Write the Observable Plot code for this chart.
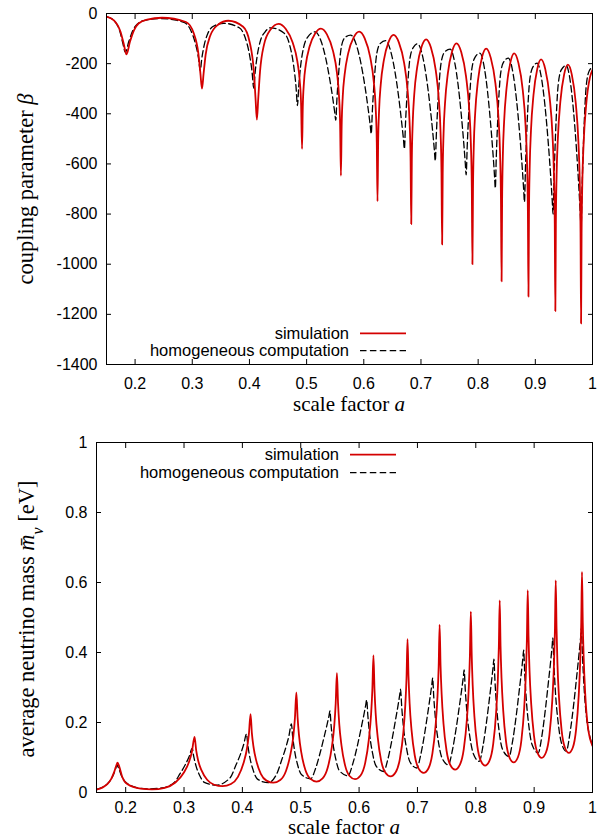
<!DOCTYPE html>
<html><head><meta charset="utf-8">
<script src="https://cdn.jsdelivr.net/npm/d3@7"></script>
<script src="https://cdn.jsdelivr.net/npm/@observablehq/plot@0.6"></script>
<style>
body{margin:0;background:#fff;}
#chart{width:602px;height:839px;position:relative;background:#fff;}
#chart svg{display:block;}
</style></head><body><div id="chart"></div>
<script>
const xTicks = [0.2,0.3,0.4,0.5,0.6,0.7,0.8,0.9,1];
const betaTicks = [-1400,-1200,-1000,-800,-600,-400,-200,0];
const massTicks = [0,0.2,0.4,0.6,0.8,1];
const seriesNames = ["simulation","homogeneous computation"];

// coupling parameter beta, simulation (a, beta)
const simBeta = [
[0.150,-12],[0.163,-27],[0.1745,-73],[0.180,-120],[0.185,-163],[0.191,-113],[0.198,-67],[0.206,-40],[0.221,-24],[0.247,-17],
[0.289,-34],[0.3026,-79],[0.3106,-158],[0.3142,-238],[0.317,-300],[0.3198,-240],[0.3234,-164],[0.3314,-89],[0.345,-45],[0.363,-29],
[0.389,-53],[0.4006,-116],[0.4075,-226],[0.4106,-336],[0.413,-423],[0.4154,-339],[0.4185,-232],[0.4254,-125],[0.437,-64],[0.451,-41],
[0.4633,-61],[0.4756,-116],[0.4838,-191],[0.4879,-266],[0.4904,-365],[0.492,-540],[0.4933,-372],[0.4953,-276],[0.4986,-204],[0.5052,-132],[0.5151,-79],[0.525,-60],
[0.5355,-83],[0.546,-148],[0.553,-236],[0.5565,-324],[0.5586,-442],[0.560,-647],[0.5613,-446],[0.5632,-331],[0.5664,-245],[0.5728,-158],[0.5824,-95],[0.592,-72],
[0.6016,-99],[0.6112,-174],[0.6176,-275],[0.6208,-377],[0.6227,-512],[0.624,-749],[0.6251,-517],[0.6268,-384],[0.6296,-284],[0.6352,-185],[0.6436,-112],[0.652,-85],
[0.6613,-115],[0.6706,-198],[0.6768,-312],[0.6799,-425],[0.6818,-576],[0.683,-840],[0.6840,-582],[0.6856,-435],[0.6882,-324],[0.6934,-214],[0.7012,-132],[0.709,-103],
[0.7174,-136],[0.7258,-226],[0.7314,-348],[0.7342,-471],[0.7359,-635],[0.737,-921],[0.7380,-640],[0.7395,-480],[0.742,-360],[0.747,-239],[0.7545,-151],[0.762,-119],
[0.7704,-154],[0.7788,-251],[0.7844,-383],[0.7872,-515],[0.7889,-692],[0.790,-1000],[0.7910,-699],[0.7924,-527],[0.7948,-398],[0.7996,-269],[0.8068,-174],[0.814,-140],
[0.8221,-177],[0.8302,-279],[0.8356,-418],[0.8383,-558],[0.8399,-743],[0.841,-1068],[0.8419,-750],[0.8432,-568],[0.8454,-432],[0.8498,-295],[0.8564,-195],[0.863,-159],
[0.8705,-198],[0.878,-305],[0.883,-450],[0.8855,-596],[0.887,-790],[0.888,-1129],[0.8889,-798],[0.8902,-609],[0.8924,-467],[0.8968,-325],[0.9034,-221],[0.910,-183],
[0.9175,-223],[0.925,-334],[0.930,-484],[0.9325,-635],[0.934,-836],[0.935,-1187],[0.9359,-843],[0.9372,-646],[0.9394,-499],[0.9438,-351],[0.9504,-243],[0.957,-204],
[0.9639,-245],[0.9708,-359],[0.9754,-514],[0.9777,-668],[0.9791,-875],[0.980,-1236],[0.9809,-879],[0.9822,-674],[0.9844,-521],[0.9888,-368],[0.9954,-256],[1.0,-225]
];

// coupling parameter beta, homogeneous computation (a, beta)
const homBeta = [
[0.150,-12],[0.163,-28],[0.1735,-72],[0.1785,-118],[0.183,-155],[0.189,-112],[0.196,-68],[0.204,-42],[0.219,-26],[0.245,-20],
[0.2854,-35],[0.2971,-66],[0.3055,-120],[0.3108,-176],[0.314,-228],[0.3166,-181],[0.3205,-130],[0.327,-81],[0.3361,-52],[0.355,-39],
[0.3822,-57],[0.3925,-96],[0.400,-163],[0.4046,-233],[0.4075,-298],[0.4098,-238],[0.4133,-173],[0.419,-110],[0.4271,-74],[0.437,-57],
[0.4609,-79],[0.4703,-125],[0.4772,-206],[0.4814,-290],[0.484,-367],[0.4861,-294],[0.4893,-214],[0.4945,-138],[0.5019,-94],[0.515,-73],
[0.5258,-114],[0.533,-174],[0.5402,-259],[0.5456,-336],[0.5492,-395],[0.551,-426],[0.553,-341],[0.556,-239],[0.561,-130],[0.567,-96],[0.577,-86],
[0.5878,-131],[0.595,-199],[0.6022,-293],[0.6076,-380],[0.6112,-445],[0.613,-480],[0.615,-387],[0.618,-275],[0.623,-156],[0.629,-119],[0.638,-108],
[0.6479,-158],[0.6545,-232],[0.6611,-335],[0.666,-430],[0.6694,-502],[0.671,-540],[0.673,-435],[0.676,-310],[0.681,-175],[0.687,-134],[0.694,-121],
[0.7033,-175],[0.7095,-255],[0.7157,-367],[0.7204,-469],[0.7235,-547],[0.725,-588],[0.727,-477],[0.730,-343],[0.735,-200],[0.741,-155],[0.751,-142],
[0.7594,-200],[0.765,-286],[0.7706,-406],[0.7748,-516],[0.7776,-600],[0.779,-644],[0.781,-523],[0.784,-377],[0.789,-221],[0.795,-173],[0.803,-158],
[0.8111,-220],[0.8165,-313],[0.8219,-442],[0.826,-560],[0.8287,-650],[0.830,-697],[0.8318,-567],[0.8345,-412],[0.839,-245],[0.8444,-194],[0.853,-178],
[0.8614,-244],[0.867,-342],[0.8726,-479],[0.8768,-605],[0.8796,-701],[0.881,-751],[0.8828,-613],[0.8855,-447],[0.890,-270],[0.8954,-215],[0.903,-198],
[0.9114,-267],[0.917,-371],[0.9226,-515],[0.9268,-647],[0.9296,-747],[0.931,-800],[0.9328,-652],[0.9355,-474],[0.940,-284],[0.9454,-225],[0.954,-207],
[0.9618,-282],[0.967,-394],[0.9722,-549],[0.9761,-692],[0.9787,-800],[0.980,-857],[0.9818,-694],[0.9845,-498],[0.989,-290],[0.9944,-228],[1.0,-215]
];

// average neutrino mass [eV], simulation (a, m)
const simMass = [
[0.150,0.008],[0.160,0.014],[0.168,0.023],[0.175,0.038],[0.1797,0.056],[0.1835,0.075],[0.186,0.085],[0.189,0.074],[0.194,0.045],[0.2027,0.024],[0.2255,0.011],[0.245,0.009],
[0.2669,0.0135],[0.2852,0.0285],[0.2998,0.057],[0.3085,0.087],[0.3136,0.117],[0.318,0.159],[0.3209,0.1195],[0.3242,0.0913],[0.330,0.0631],[0.3396,0.0363],[0.3516,0.0222],[0.366,0.018],
[0.3804,0.0242],[0.3924,0.0448],[0.402,0.084],[0.4078,0.125],[0.4111,0.166],[0.414,0.224],[0.4163,0.169],[0.4191,0.130],[0.4238,0.091],[0.4316,0.0535],[0.4413,0.0339],[0.453,0.028],
[0.4649,0.0357],[0.4747,0.0615],[0.4826,0.111],[0.4874,0.162],[0.4901,0.214],[0.4925,0.286],[0.4946,0.215],[0.497,0.164],[0.5011,0.113],[0.508,0.0642],[0.5167,0.0387],[0.527,0.031],
[0.5375,0.0403],[0.5463,0.0713],[0.5533,0.130],[0.5575,0.192],[0.5599,0.254],[0.562,0.341],[0.5639,0.256],[0.566,0.196],[0.5698,0.135],[0.576,0.0774],[0.5837,0.0471],[0.593,0.038],
[0.6025,0.0486],[0.6104,0.084],[0.6167,0.151],[0.6205,0.222],[0.6227,0.293],[0.6246,0.392],[0.6264,0.295],[0.6284,0.226],[0.632,0.157],[0.6378,0.091],[0.6452,0.0564],[0.654,0.046],
[0.6627,0.0578],[0.670,0.097],[0.6758,0.171],[0.6792,0.250],[0.6813,0.328],[0.683,0.438],[0.6847,0.331],[0.6866,0.255],[0.6899,0.178],[0.6954,0.1057],[0.7023,0.0675],[0.7105,0.056],
[0.7188,0.0687],[0.7256,0.111],[0.7311,0.191],[0.7344,0.276],[0.7364,0.361],[0.738,0.479],[0.7396,0.363],[0.7415,0.2805],[0.7446,0.198],[0.7499,0.1193],[0.7566,0.0779],[0.7645,0.0655],
[0.7726,0.079],[0.7794,0.1242],[0.7848,0.210],[0.788,0.300],[0.7899,0.391],[0.7915,0.517],[0.793,0.394],[0.7947,0.306],[0.7976,0.218],[0.8025,0.1342],[0.8087,0.0902],[0.816,0.077],
[0.8235,0.0912],[0.8298,0.1384],[0.8348,0.228],[0.8378,0.322],[0.8395,0.417],[0.841,0.549],[0.8424,0.419],[0.8441,0.327],[0.847,0.234],[0.8518,0.1462],[0.8578,0.0999],[0.865,0.086],
[0.8722,0.1008],[0.8782,0.150],[0.883,0.243],[0.8859,0.342],[0.8876,0.440],[0.889,0.578],[0.8904,0.444],[0.8921,0.348],[0.895,0.252],[0.8998,0.1613],[0.9058,0.1134],[0.913,0.099],
[0.9202,0.1142],[0.9262,0.1649],[0.931,0.261],[0.9339,0.363],[0.9356,0.464],[0.937,0.606],[0.9384,0.468],[0.9399,0.369],[0.9426,0.271],[0.9471,0.1771],[0.9528,0.1278],[0.9595,0.113],
[0.9663,0.1285],[0.9719,0.1802],[0.9764,0.278],[0.9791,0.382],[0.9807,0.485],[0.982,0.630],[0.9833,0.487],[0.9849,0.385],[0.9875,0.283],[0.9919,0.190],[1.0,0.133]
];

// average neutrino mass [eV], homogeneous computation (a, m)
const homMass = [
[0.150,0.009],[0.160,0.015],[0.168,0.024],[0.175,0.038],[0.1795,0.053],[0.183,0.069],[0.185,0.078],[0.188,0.069],[0.193,0.047],[0.201,0.028],[0.222,0.013],[0.240,0.0105],[0.262,0.013],
[0.2828,0.028],[0.2932,0.054],[0.3023,0.080],[0.3088,0.103],[0.314,0.126],[0.3166,0.103],[0.3205,0.076],[0.327,0.048],[0.3348,0.029],[0.355,0.021],
[0.3794,0.043],[0.3886,0.077],[0.3966,0.109],[0.4024,0.138],[0.407,0.167],[0.4093,0.136],[0.4128,0.100],[0.4185,0.064],[0.4254,0.039],[0.444,0.028],
[0.4588,0.053],[0.4672,0.092],[0.4745,0.129],[0.4798,0.162],[0.484,0.196],[0.4861,0.161],[0.4893,0.121],[0.4945,0.080],[0.5008,0.052],[0.517,0.039],
[0.5253,0.068],[0.5335,0.115],[0.5401,0.159],[0.5451,0.194],[0.5484,0.219],[0.550,0.233],[0.552,0.192],[0.555,0.144],[0.560,0.096],[0.566,0.063],[0.581,0.048],
[0.589,0.081],[0.597,0.133],[0.6034,0.183],[0.6082,0.222],[0.6114,0.250],[0.613,0.265],[0.615,0.220],[0.618,0.167],[0.623,0.113],[0.629,0.076],[0.642,0.060],
[0.6493,0.095],[0.6565,0.152],[0.6623,0.206],[0.6667,0.248],[0.6696,0.279],[0.671,0.295],[0.673,0.246],[0.676,0.187],[0.681,0.129],[0.687,0.088],[0.699,0.070],
[0.7058,0.109],[0.7125,0.170],[0.7179,0.229],[0.7220,0.276],[0.7247,0.309],[0.726,0.327],[0.728,0.272],[0.731,0.208],[0.736,0.144],[0.742,0.099],[0.753,0.079],
[0.7598,0.120],[0.7665,0.185],[0.7719,0.247],[0.7760,0.296],[0.7787,0.331],[0.780,0.350],[0.782,0.293],[0.785,0.225],[0.790,0.157],[0.796,0.110],[0.806,0.089],
[0.8123,0.133],[0.8185,0.203],[0.8235,0.270],[0.8273,0.323],[0.8298,0.361],[0.831,0.381],[0.8328,0.320],[0.8355,0.248],[0.840,0.175],[0.8454,0.125],[0.857,0.103],
[0.8633,0.149],[0.8695,0.222],[0.8745,0.292],[0.8783,0.346],[0.8808,0.386],[0.882,0.407],[0.8838,0.342],[0.8865,0.266],[0.891,0.189],[0.8964,0.137],[0.907,0.113],
[0.9133,0.162],[0.9195,0.241],[0.9245,0.316],[0.9283,0.375],[0.9308,0.418],[0.932,0.441],[0.9338,0.370],[0.9365,0.286],[0.941,0.202],[0.9464,0.144],[0.955,0.118],
[0.9615,0.171],[0.968,0.255],[0.9732,0.336],[0.9771,0.399],[0.9797,0.444],[0.981,0.469],[0.9828,0.393],[0.9855,0.302],[0.990,0.211],[0.9954,0.160],[1.0,0.135]
];

const RED = "#d40000";
const DASH = "6.5,3.4";
const sans = "'Liberation Sans', Arial, Helvetica, sans-serif";
const serif = "'Liberation Serif', 'Times New Roman', serif";

function panel({sim, hom, yDomain, yTicks, height, marginTop, marginBottom, marginLeft, xPad}) {
  return Plot.plot({
    width: 602, height, marginTop, marginBottom, marginLeft, marginRight: 10,
    style: {fontFamily: sans, fontSize: "16px", background: "white", color: "black", overflow: "visible"},
    x: {domain: [0.15, 1]},
    y: {domain: yDomain},
    marks: [
      Plot.axisX(xTicks, {anchor: "bottom", tickSize: 0, tickPadding: xPad, tickFormat: d => String(d), label: null}),
      Plot.axisX(xTicks, {anchor: "bottom", tickSize: -5, fill: "none", label: null}),
      Plot.axisX(xTicks, {anchor: "top", tickSize: -5, fill: "none", label: null}),
      Plot.axisY(yTicks, {anchor: "left", tickSize: 0, tickPadding: 9, tickFormat: d => String(d), label: null}),
      Plot.axisY(yTicks, {anchor: "left", tickSize: -5, fill: "none", label: null}),
      Plot.axisY(yTicks, {anchor: "right", tickSize: -5, fill: "none", label: null}),
      Plot.line(hom, {x: d => d[0], y: d => d[1], stroke: "black", strokeWidth: 1.3, strokeDasharray: DASH, curve: "monotone-x", clip: true}),
      Plot.line(sim, {x: d => d[0], y: d => d[1], stroke: RED, strokeWidth: 1.8, curve: "monotone-x", clip: true}),
      Plot.frame({stroke: "black", strokeWidth: 1})
    ]
  });
}

function decorate(svg, o) {
  const s = d3.select(svg);
  const lg = s.append("g").attr("font-family", sans).attr("font-size", 16.5).attr("fill", "black");
  seriesNames.forEach((name, i) => {
    const y = o.legY[i];
    lg.append("text").attr("x", o.legTextX).attr("y", y).attr("dy", "0.35em").attr("text-anchor", "end").text(name);
    lg.append("line").attr("x1", o.legLine[0]).attr("x2", o.legLine[1]).attr("y1", y).attr("y2", y)
      .attr("stroke", i === 0 ? RED : "black").attr("stroke-width", i === 0 ? 1.8 : 1.3)
      .attr("stroke-dasharray", i === 0 ? null : DASH);
  });
  const g = s.append("g").attr("font-family", serif).attr("fill", "black");
  const xt = g.append("text").attr("x", o.xLab[0]).attr("y", o.xLab[1]).attr("text-anchor", "middle").attr("font-size", 21);
  xt.append("tspan").text("scale factor ");
  xt.append("tspan").attr("font-style", "italic").text("a");
  const yt = g.append("text").attr("transform", `translate(${o.yLab[0]},${o.yLab[1]}) rotate(-90)`)
    .attr("text-anchor", "middle").attr("dy", "0.35em").attr("font-size", 22.5);
  o.yParts.forEach(p => {
    const t = yt.append("tspan").text(p.t);
    if (p.i) t.attr("font-style", "italic");
    if (p.sub) t.attr("font-size", 16).attr("baseline-shift", "sub");
  });
}

const chart = document.getElementById("chart");

const topSvg = panel({sim: simBeta, hom: homBeta, yDomain: [-1400, 0], yTicks: betaTicks,
  height: 420, marginTop: 13, marginBottom: 56, marginLeft: 106, xPad: 13});
chart.appendChild(topSvg);
decorate(topSvg, {legTextX: 349, legY: [333.3, 350.7], legLine: [360, 406], xLab: [349, 411], yLab: [25.5, 189],
  yParts: [{t: "coupling parameter "}, {t: "β", i: true}]});

const botSvg = panel({sim: simMass, hom: homMass, yDomain: [0, 1], yTicks: massTicks,
  height: 419, marginTop: 22, marginBottom: 47, marginLeft: 96, xPad: 9});
chart.appendChild(botSvg);
decorate(botSvg, {legTextX: 339, legY: [34.7, 52.7], legLine: [350, 396], xLab: [344, 414.3], yLab: [26, 199],
  yParts: [{t: "average neutrino mass "}, {t: "m\u0304", i: true}, {t: "ν", i: true, sub: true}, {t: " [eV]"}]});
</script>
</body></html>
